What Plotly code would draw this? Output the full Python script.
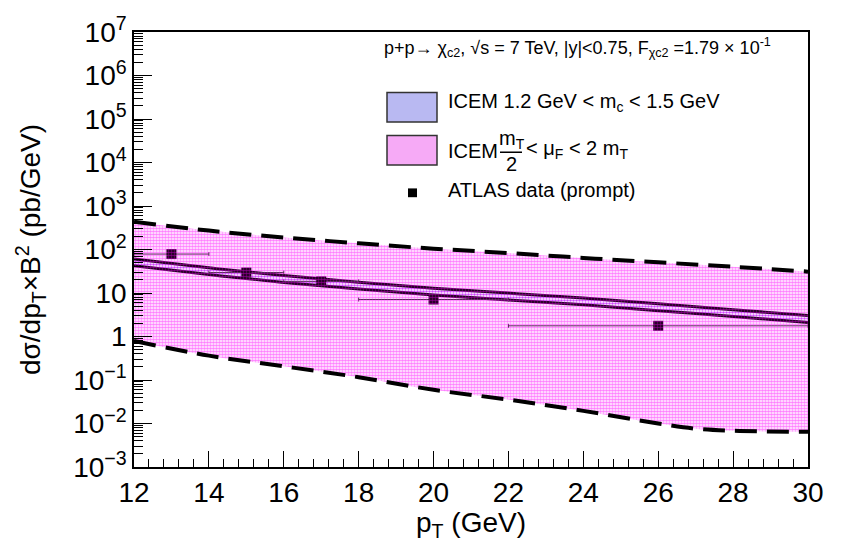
import plotly.graph_objects as go

# ---------------- data ----------------
pt_grid = [12, 14, 16, 18, 20, 22, 24, 26, 28, 30]
# ICEM scale (mu_F) band: upper / lower edges (pb/GeV)
scale_upper = [434, 272, 189, 139, 104.5, 82.8, 64, 50.7, 40.2, 31]
pt_lower = [12, 14, 16, 18, 20, 22, 24, 26, 27, 28, 30]
scale_lower = [0.79, 0.363, 0.206, 0.116, 0.0594, 0.0354, 0.0195, 0.0100, 0.0076, 0.0068, 0.00645]
# ICEM mass (m_c) band: upper / lower edges
mass_upper = [60.7, 38.1, 25.2, 17.6, 12.9, 9.95, 7.69, 5.64, 4.13, 3.03]
mass_lower = [42.3, 26.5, 17.5, 12.3, 8.98, 6.93, 5.35, 3.93, 2.87, 2.11]
# ATLAS prompt data
data_pt = [13, 15, 17, 20, 26]
data_val = [78.6, 29.5, 18.5, 7.1, 1.76]
data_xlo = [1, 1, 1, 2, 4]
data_xhi = [1, 1, 1, 2, 4]

y_tickvals = [1e-3, 1e-2, 1e-1, 1, 10, 1e2, 1e3, 1e4, 1e5, 1e6, 1e7]
y_ticktext = ["10<sup>\u22123</sup>", "10<sup>\u22122</sup>", "10<sup>\u22121</sup>", "1", "10",
              "10<sup>2</sup>", "10<sup>3</sup>", "10<sup>4</sup>", "10<sup>5</sup>",
              "10<sup>6</sup>", "10<sup>7</sup>"]
x_tickvals = [12, 14, 16, 18, 20, 22, 24, 26, 28, 30]

FONT = "Liberation Sans, Arial, sans-serif"

fig = go.Figure()

# mass band (blue)
fig.add_trace(go.Scatter(x=pt_grid, y=mass_lower, mode="lines", line=dict(color="black", width=3),
                         line_shape="spline", showlegend=False, hoverinfo="skip"))
fig.add_trace(go.Scatter(x=pt_grid, y=mass_upper, mode="lines", line=dict(color="black", width=3),
                         line_shape="spline", fill="tonexty", fillcolor="rgba(0,0,0,0)",
                         fillpattern=dict(shape=".", fgcolor="#3030ff", bgcolor="rgba(255,255,255,0)",
                                          size=3, solidity=0.4),
                         showlegend=False, hoverinfo="skip"))

# data points
fig.add_trace(go.Scatter(x=data_pt, y=data_val, mode="markers",
                         marker=dict(symbol="square", size=10, color="black"),
                         error_x=dict(type="data", symmetric=False, array=data_xhi, arrayminus=data_xlo,
                                      color="#333333", thickness=1, width=2),
                         showlegend=False))

# scale band (pink) drawn over everything with transparent dotted pattern
fig.add_trace(go.Scatter(x=pt_lower, y=scale_lower, mode="lines", line=dict(color="rgba(0,0,0,0)", width=0),
                         line_shape="spline", showlegend=False, hoverinfo="skip"))
fig.add_trace(go.Scatter(x=pt_grid, y=scale_upper, mode="lines", line=dict(color="rgba(0,0,0,0)", width=0),
                         line_shape="spline", fill="tonexty", fillcolor="rgba(0,0,0,0)",
                         fillpattern=dict(shape=".", fgcolor="#ff00ff", bgcolor="rgba(255,255,255,0)",
                                          size=3, solidity=0.65),
                         showlegend=False, hoverinfo="skip"))
# dashed edges
fig.add_trace(go.Scatter(x=pt_grid, y=scale_upper, mode="lines", line_shape="spline",
                         line=dict(color="black", width=4, dash="22px,10px"), showlegend=False))
fig.add_trace(go.Scatter(x=pt_lower, y=scale_lower, mode="lines", line_shape="spline",
                         line=dict(color="black", width=4, dash="22px,10px"), showlegend=False))

W, H = 841, 542
L, R, T, B = 134, 33, 23, 74
pw, ph = W - L - R, H - T - B

def px(xp):
    return (xp - L) / pw

def py(yp):
    return (H - B - yp) / ph

annotations = []
def txt(x, y, s, size=18, anchor="left"):
    annotations.append(dict(x=px(x), y=py(y), xref="paper", yref="paper", text=s, showarrow=False,
                            xanchor=anchor, yanchor="middle", font=dict(family=FONT, size=size, color="black")))

txt(382, 39, "p+p\u2192 \u03c7<sub>c2</sub>, \u221as = 7 TeV, |y|<0.75, F<sub>\u03c7c2</sub> =1.79 \u00d7 10<sup>-1</sup>", size=18)
txt(446, 95, "ICEM 1.2 GeV &lt; m<sub>c</sub> &lt; 1.5 GeV", size=20)
txt(446, 145, "ICEM", size=20)
txt(512, 133, "m<sub>T</sub>", size=20, anchor="center")
txt(511, 158, "2", size=20, anchor="center")
txt(524, 143, "&lt; \u03bc<sub>F</sub> &lt; 2 m<sub>T</sub>", size=20)
txt(446, 185, "ATLAS data (prompt)", size=20)

shapes = [
    dict(type="rect", xref="paper", yref="paper", x0=px(387), x1=px(437), y0=py(115), y1=py(85),
         fillcolor="#b9b9f2", line=dict(color="#333333", width=1.5)),
    dict(type="rect", xref="paper", yref="paper", x0=px(387), x1=px(437), y0=py(159), y1=py(129),
         fillcolor="#f6aaf6", line=dict(color="#333333", width=1.5)),
    dict(type="line", xref="paper", yref="paper", x0=px(500), x1=px(522), y0=py(146), y1=py(146),
         line=dict(color="black", width=1.5)),
    dict(type="rect", xref="paper", yref="paper", x0=px(408), x1=px(417), y0=py(192), y1=py(183),
         fillcolor="black", line=dict(color="black", width=0)),
]

fig.update_layout(
    width=W, height=H,
    margin=dict(l=L, r=R, t=T, b=B),
    plot_bgcolor="white", paper_bgcolor="white",
    font=dict(family=FONT, color="black"),
    annotations=annotations, shapes=shapes,
    showlegend=False,
)
fig.update_xaxes(range=[12, 30], tickvals=x_tickvals, ticks="inside", ticklen=16, tickwidth=1,
                 tickcolor="black", showline=True, linecolor="black", linewidth=1.5, mirror=True,
                 showgrid=False, zeroline=False, tickfont=dict(size=28, family=FONT),
                 minor=dict(ticks="inside", ticklen=8, dtick=0.4, tickcolor="black", showgrid=False),
                 title=dict(text="p<sub>T</sub> (GeV)", font=dict(size=28, family=FONT), standoff=2))
fig.update_yaxes(type="log", range=[-3, 7], tickvals=y_tickvals, ticktext=y_ticktext,
                 ticks="inside", ticklen=18, tickwidth=1, tickcolor="black",
                 showline=True, linecolor="black", linewidth=1.5, mirror=True,
                 showgrid=False, zeroline=False, tickfont=dict(size=28, family=FONT),
                 minor=dict(ticks="inside", ticklen=9, dtick="D1", tickcolor="black", showgrid=False),
                 title=dict(text="d\u03c3/dp<sub>T</sub>\u00d7B<sup>2</sup> (pb/GeV)",
                            font=dict(size=28, family=FONT), standoff=24))

fig.write_html("out.html")
